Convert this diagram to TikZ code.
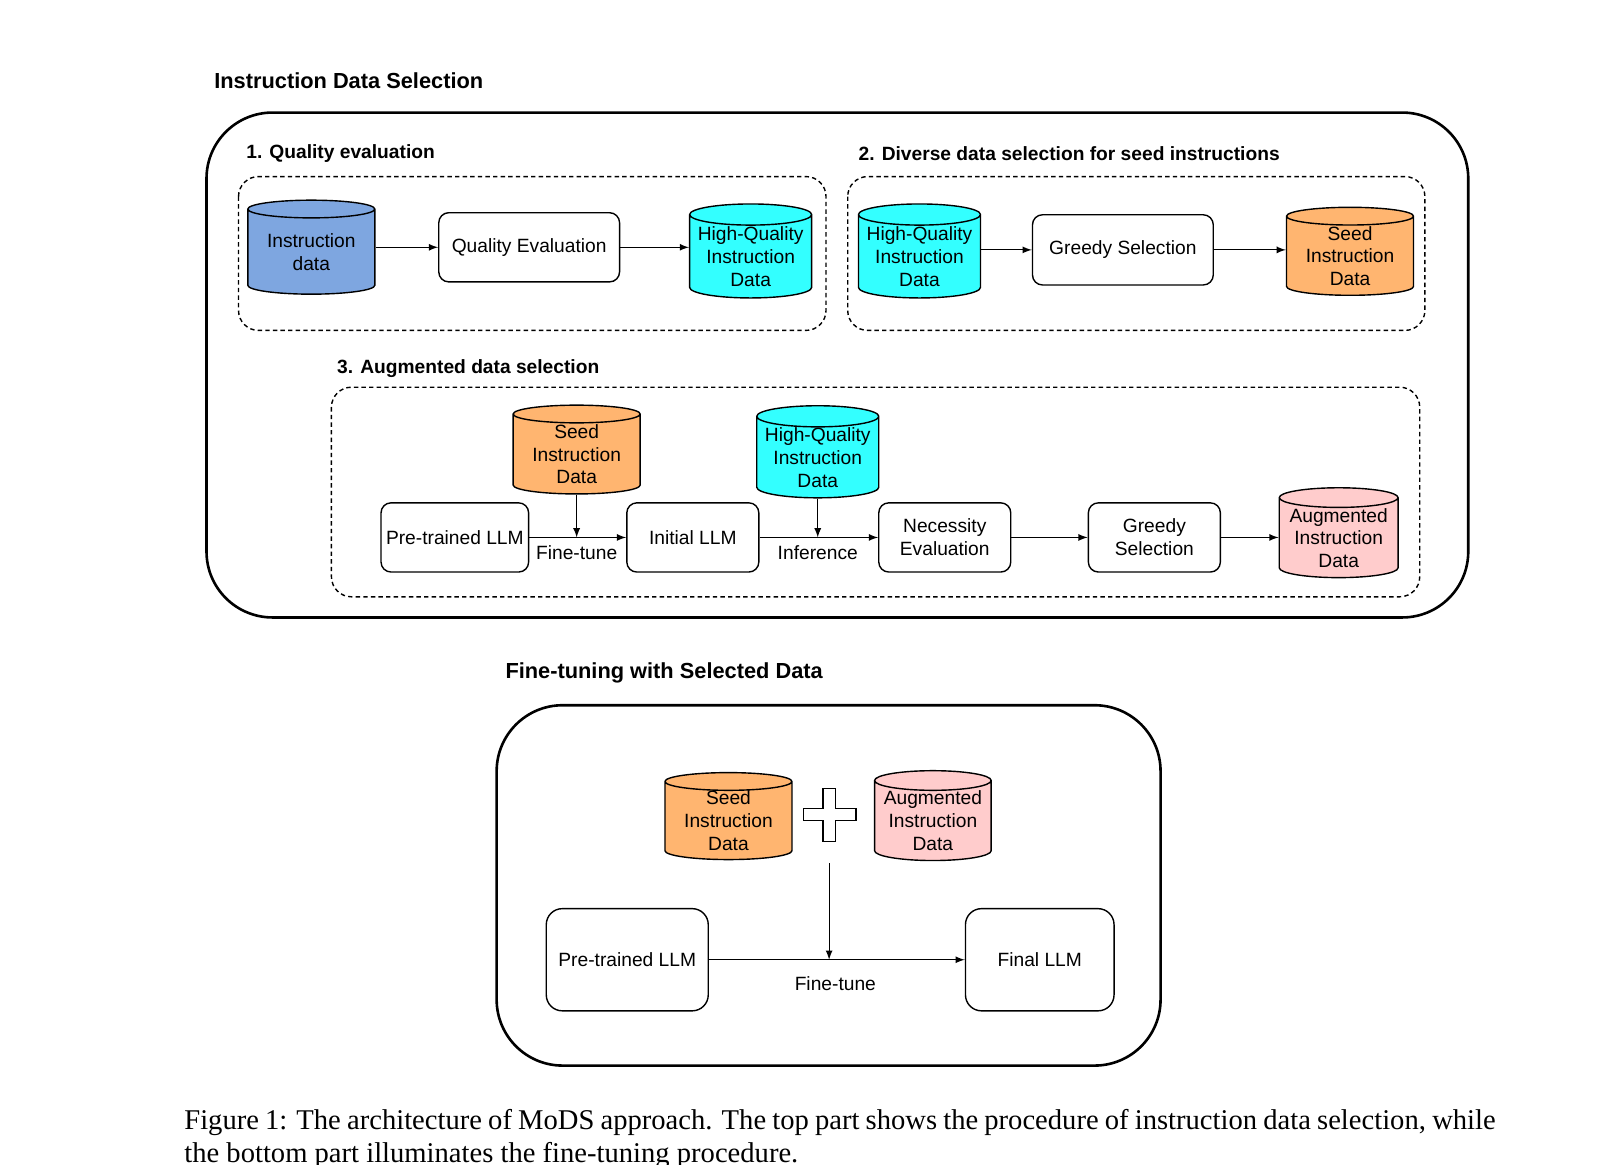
\documentclass[tikz,border=0pt]{standalone}
\usepackage{fontspec}
\setmainfont{Liberation Sans}
\newfontfamily\capfont{Liberation Serif}
\usetikzlibrary{shapes.geometric,positioning}

\definecolor{rawblue}{HTML}{7EA6E0}
\definecolor{hqcyan}{HTML}{33FFFF}
\definecolor{seedorange}{HTML}{FFB570}
\definecolor{augpink}{HTML}{FFCCCC}

\tikzset{
  proc/.style={draw, rounded corners=5pt, line width=0.7pt, align=center,
    inner sep=1pt, font=\fontsize{9.6}{11.4}\selectfont},
  db/.style={cylinder, shape border rotate=90, aspect=0.2, draw,
    line width=0.7pt, align=center, inner sep=0pt,
    cylinder uses custom fill, cylinder body fill=#1, cylinder end fill=#1,
    font=\fontsize{9.6}{11.4}\selectfont},
  group/.style={draw, dashed, dash pattern=on 2.2pt off 1.6pt,
    rounded corners=10pt, line width=0.7pt},
  frame/.style={draw, rounded corners=33pt, line width=1.3pt},
  heading/.style={anchor=west, inner sep=0pt, font=\fontsize{10.9}{13}\selectfont\bfseries},
  subheading/.style={anchor=west, inner sep=0pt, font=\fontsize{9.6}{11.4}\selectfont\bfseries},
  lbl/.style={inner sep=1pt, font=\fontsize{9.6}{11.4}\selectfont},
}

\begin{document}
\begin{tikzpicture}[x=0.5163pt, y=-0.5163pt, >=latex, semithick]
\useasboundingbox (0,0) rectangle (1568,1128);

% top part
\node[heading] (selt) at (207,78) {Instruction Data Selection};
\draw[frame] (200,109) rectangle (1422,598);

\node[subheading] (qt) at (238,149) {1. Quality evaluation};
\draw[group] (231,171) rectangle (800,320);
\node[subheading] (dt) at (831,149) {2. Diverse data selection for seed instructions};
\draw[group] (821,171) rectangle (1380,320);

\node[db=rawblue, minimum width=63.5pt, minimum height=47pt] (raw) at (301.5,244) {Instruction\\data};
\node[proc, minimum width=90.4pt, minimum height=34.6pt] (qe) at (512.5,239.5) {Quality Evaluation};
\node[db=hqcyan, minimum width=61pt, minimum height=47pt] (hq) at (727,248.5) {High-Quality\\Instruction\\Data};
\path[->] (raw.east |- qe) edge (qe);
\path[->] (qe) edge (qe -| hq.west);

\node[db=hqcyan, minimum width=61pt, minimum height=47pt] (hqb) at (890.5,248.5) {High-Quality\\Instruction\\Data};
\node[proc, minimum width=90.4pt, minimum height=35.1pt] (gs) at (1087.5,242) {Greedy Selection};
\node[db=seedorange, minimum width=63.5pt, minimum height=44pt] (seed) at (1307.5,248) {Seed\\Instruction\\Data};
\path[->] (hqb.east |- gs) edge (gs);
\path[->] (gs) edge (gs -| seed.west);

\node[subheading] (at) at (326,357) {3. Augmented data selection};
\draw[group] (321,375) rectangle (1375,578);

\node[db=seedorange, minimum width=63.5pt, minimum height=44.4pt] (seedc) at (558.5,440) {Seed\\Instruction\\Data};
\node[db=hqcyan, minimum width=61pt, minimum height=46pt] (hqc) at (792,443) {High-Quality\\Instruction\\Data};
\node[proc, minimum width=73.8pt, minimum height=34.6pt] (pre) at (440.5,520.5) {Pre-trained LLM};
\node[proc, minimum width=66pt, minimum height=34.6pt] (init) at (671,520.5) {Initial LLM};
\node[proc, minimum width=66pt, minimum height=34.6pt] (nec) at (915,520.5) {Necessity\\Evaluation};
\node[proc, minimum width=66pt, minimum height=34.6pt] (gsc) at (1118,520.5) {Greedy\\Selection};
\node[db=augpink, minimum width=59.4pt, minimum height=43.4pt] (aug) at (1296.5,521) {Augmented\\Instruction\\Data};
\path[->] (pre) edge (init);
\path[->] (init) edge (nec);
\path[->] (nec) edge (gsc);
\path[->] (gsc) edge (gsc -| aug.west);
\path[->] (seedc) edge (seedc.south |- pre.east);
\path[->] (hqc) edge (hqc.south |- init.east);
\node[lbl, below=3pt] (ftl) at (seedc.south |- pre.east) {Fine-tune};
\node[lbl, below=3pt] (infl) at (hqc.south |- init.east) {Inference};

% bottom part
\node[heading] (ftt) at (489,652) {Fine-tuning with Selected Data};
\draw[frame] (481,683) rectangle (1124,1032);

\node[db=seedorange, minimum width=63.5pt, minimum height=43.4pt] (seedd) at (705.5,795) {Seed\\Instruction\\Data};
\node[db=augpink, minimum width=58.3pt, minimum height=43.4pt] (augd) at (903.5,795) {Augmented\\Instruction\\Data};
\draw[line width=0.6pt] (797,764) -- (809,764) -- (809,783) -- (829,783) -- (829,795)
  -- (809,795) -- (809,815) -- (797,815) -- (797,795) -- (778,795) -- (778,783)
  -- (797,783) -- cycle;
\node[proc, rounded corners=8pt, minimum width=81pt, minimum height=51.1pt] (pred) at (607.5,929.5) {Pre-trained LLM};
\node[proc, rounded corners=8pt, minimum width=74.3pt, minimum height=51.1pt] (fin) at (1007,929.5) {Final LLM};
\coordinate (mix) at (803,836);
\path[->] (pred) edge (fin);
\path[->] (mix) edge (mix |- pred.east);
\node[lbl] (ftd) at (809,953) {Fine-tune};

% caption
\node[anchor=north west, inner sep=0pt, align=left,
  font=\capfont\fontsize{14.3}{16.5}\selectfont] (cap) at (178,1074)
  {\makebox[655.7pt][s]{Figure 1: The architecture of MoDS approach. The top part shows the procedure of instruction data selection, while}\\
   the bottom part illuminates the fine-tuning procedure.};
\end{tikzpicture}
\end{document}
